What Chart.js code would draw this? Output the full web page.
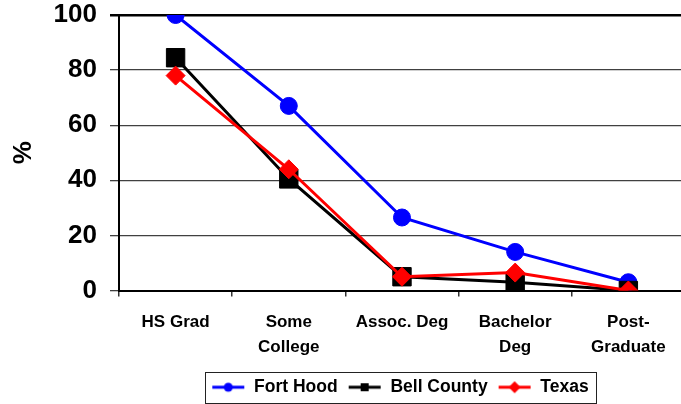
<!DOCTYPE html>
<html>
<head>
<meta charset="utf-8">
<script src="https://cdn.jsdelivr.net/npm/chart.js@4"></script>
<style>
html, body { margin: 0; padding: 0; background: #fff; overflow: hidden; }
#wrap { width: 681px; height: 404px; position: relative; }
</style>
</head>
<body>
<div id="wrap"><canvas id="chart"></canvas></div>
<script>
// data
const categories = [['HS Grad'], ['Some', 'College'], ['Assoc. Deg'], ['Bachelor', 'Deg'], ['Post-', 'Graduate']];
const fortHood = [100, 67, 26.5, 14, 3];
const bellCounty = [84.5, 40.5, 5, 3, 0];
const texas = [78, 44, 5, 6.5, 0];
const seriesNames = ['Fort Hood', 'Bell County', 'Texas'];

Chart.defaults.font.family = "'Liberation Sans', Arial, sans-serif";
Chart.defaults.color = '#000';

// little line + marker picture for the legend
function legendIcon(color, style) {
    const cv = document.createElement('canvas');
    cv.width = 34; cv.height = 16;
    const g = cv.getContext('2d');
    g.strokeStyle = color; g.fillStyle = color; g.lineWidth = 3;
    g.beginPath(); g.moveTo(1, 8); g.lineTo(33, 8); g.stroke();
    g.beginPath();
    if (style === 'circle') g.arc(17, 8, 4.5, 0, Math.PI * 2);
    else if (style === 'rect') g.rect(13, 4, 8, 8);
    else { g.moveTo(17, 2); g.lineTo(23, 8); g.lineTo(17, 14); g.lineTo(11, 8); g.closePath(); }
    g.fill();
    return cv;
}

function series(label, values, color, style, radius, order) {
    return {
        label: label,
        data: values.map((v, i) => ({ x: i, y: v })),
        borderColor: color,
        backgroundColor: color,
        borderWidth: 3,
        pointStyle: style,
        pointRadius: radius,
        pointHoverRadius: radius,
        pointBorderWidth: 1,
        order: order,
        icon: legendIcon(color, style)
    };
}

const legendFrame = {
    id: 'legendFrame',
    afterDraw(chart) {
        const hb = chart.legend.legendHitBoxes;
        if (!hb || !hb.length) return;
        const l = Math.min(...hb.map(b => b.left)) - 6;
        const r = Math.max(...hb.map(b => b.left + b.width)) + 8;
        const cy = hb[0].top + hb[0].height / 2;
        const ctx = chart.ctx;
        ctx.save();
        ctx.strokeStyle = '#222';
        ctx.lineWidth = 1;
        ctx.strokeRect(Math.round(l) + 0.5, Math.round(cy - 15.5) + 0.5, Math.round(r - l), 31);
        ctx.restore();
    }
};

new Chart(document.getElementById('chart'), {
    type: 'line',
    data: {
        datasets: [
            series(seriesNames[0], fortHood, '#0000ff', 'circle', 8.5, 3),
            series(seriesNames[1], bellCounty, '#000000', 'rect', 13, 2),
            series(seriesNames[2], texas, '#ff0000', 'rectRot', 9.5, 1)
        ]
    },
    options: {
        responsive: true,
        maintainAspectRatio: false,
        animation: false,
        layout: { autoPadding: false, padding: { top: 15, right: 0, bottom: -2, left: 0 } },
        scales: {
            x: {
                type: 'linear',
                min: -0.5,
                max: 4.465,
                afterBuildTicks: s => { s.ticks = [-0.5, 0, 0.5, 1, 1.5, 2, 2.5, 3, 3.5, 4].map(v => ({ value: v })); },
                afterFit: s => { s.height = 78; s.paddingLeft = 0; s.paddingRight = 0; },
                grid: {
                    drawOnChartArea: false,
                    tickLength: 6,
                    lineWidth: 1.5,
                    color: c => Number.isInteger(c.tick.value) ? 'rgba(0,0,0,0)' : '#333'
                },
                border: { color: '#000', width: 2 },
                ticks: {
                    autoSkip: false,
                    maxRotation: 0,
                    padding: 13,
                    font: { size: 17, weight: 'bold', lineHeight: 1.5 },
                    callback: v => Number.isInteger(v) ? categories[v] : ''
                }
            },
            y: {
                min: 0,
                max: 100,
                afterFit: s => { s.width = 119; s.paddingTop = 0; s.paddingBottom = 0; },
                grid: {
                    tickLength: 9,
                    color: c => c.tick.value === 100 ? '#000' : '#404040',
                    lineWidth: c => c.tick.value === 100 ? 2.5 : 1.3
                },
                border: { color: '#000', width: 2 },
                ticks: { stepSize: 20, padding: 13, font: { size: 26, weight: 'bold' } },
                title: { display: true, text: '%', font: { size: 26, weight: 'bold' }, padding: { top: 8, bottom: 0 } }
            }
        },
        plugins: {
            tooltip: { enabled: false },
            legend: {
                position: 'bottom',
                fullSize: false,
                labels: {
                    usePointStyle: true,
                    pointStyleWidth: 34,
                    padding: 10,
                    font: { size: 17.5, weight: 'bold' },
                    generateLabels: chart => chart.data.datasets.map((d, i) => ({
                        text: d.label,
                        pointStyle: d.icon,
                        datasetIndex: i,
                        fillStyle: d.borderColor,
                        strokeStyle: d.borderColor,
                        lineWidth: 0,
                        hidden: false,
                        fontColor: '#000'
                    }))
                }
            }
        }
    },
    plugins: [legendFrame]
});
</script>
</body>
</html>
